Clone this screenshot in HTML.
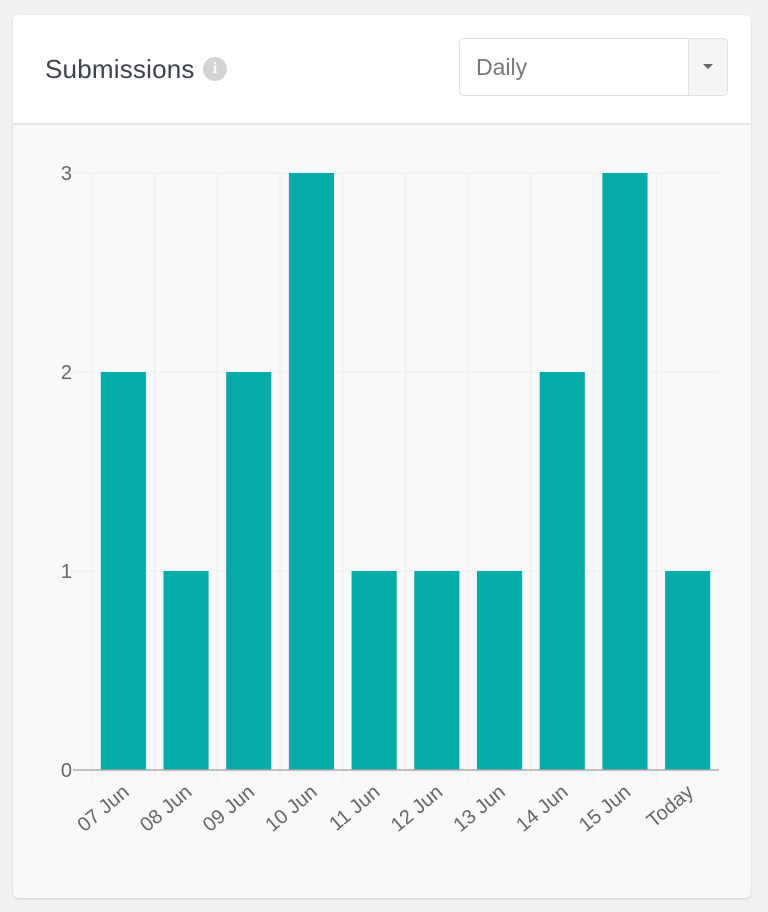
<!DOCTYPE html>
<html><head><meta charset="utf-8"><style>
body{margin:0;width:768px;height:912px;background:#f1f1f1;font-family:"Liberation Sans",sans-serif;position:relative;overflow:hidden}
.card{position:absolute;left:13px;top:15px;width:738px;height:883px;background:#f8f9fb;border-radius:6px;box-shadow:0 1px 2px rgba(0,0,0,.15);overflow:hidden}
.head{position:absolute;left:0;top:0;width:738px;height:108px;background:#fff;border-bottom:2px solid #e4e6ea}
.title{position:absolute;left:32px;top:39px;font-size:26px;color:#3c434a;letter-spacing:0.2px}
.info{position:absolute;left:190px;top:42px;width:24px;height:24px;border-radius:50%;background:#d4d4d4;color:#fff;font-size:16px;font-weight:bold;text-align:center;line-height:24px;font-family:"Liberation Serif",serif}
.sel{position:absolute;left:446px;top:23px;width:267px;height:56px;border:1.5px solid #e0e0e0;border-radius:5px;background:#fff;overflow:hidden}
.sel .txt{position:absolute;left:16px;top:15px;font-size:23px;color:#777}
.sel .btn{position:absolute;right:0;top:0;width:38px;height:56px;background:#f5f5f5;border-left:1.5px solid #e0e0e0}
.sel .caret{position:absolute;left:14px;top:25px;border-left:5px solid transparent;border-right:5px solid transparent;border-top:5px solid #666}
</style></head><body>
<div class="card">
<div class="head">
<div class="title">Submissions</div>
<div class="info">i</div>
<div class="sel"><span class="txt">Daily</span><div class="btn"><div class="caret"></div></div></div>
</div>
</div>
<svg id="chart" width="768" height="912" style="position:absolute;left:0;top:0"></svg>
<script>
const categories=["07 Jun","08 Jun","09 Jun","10 Jun","11 Jun","12 Jun","13 Jun","14 Jun","15 Jun","Today"];
const values=[2,1,2,3,1,1,1,2,3,1];
const yTicks=[0,1,2,3];
const svg=document.getElementById('chart');
const NS='http://www.w3.org/2000/svg';
const x0=92,x1=719,y0=770,y1=173,yMax=3;
const bw=(x1-x0)/categories.length;
const xs=i=>x0+i*bw;
const ys=v=>y0-(v/yMax)*(y0-y1);
function mk(t,a){const e=document.createElementNS(NS,t);for(const k in a)e.setAttribute(k,a[k]);svg.appendChild(e);return e;}
yTicks.forEach(t=>{
  const l=mk('line',{x1:73,x2:x1,y1:ys(t),y2:ys(t),stroke:'#eceef1','stroke-width':1});
  
  
  const tx=mk('text',{x:72,y:ys(t)+7,'text-anchor':'end','font-size':20,fill:'#666','font-family':'Liberation Sans, sans-serif'});
  tx.textContent=t;
  
  
});
categories.forEach((c,i)=>{
  const g=mk('line',{x1:xs(i),x2:xs(i),y1:y1,y2:y0+10,stroke:'#eceef1','stroke-width':1});
  
  
});
categories.forEach((c,i)=>{
  const w=bw*0.72,cx=xs(i)+bw/2;
  const r=mk('rect',{x:cx-w/2,y:ys(values[i]),width:w,height:y0-ys(values[i]),fill:'#05aaa9'});
  
  
  const tx=cx+7,ty=y0+24;
  const t=mk('text',{x:tx,y:ty,'text-anchor':'end','font-size':20,fill:'#666','font-family':'Liberation Sans, sans-serif',transform:`rotate(-40 ${tx} ${ty})`});
  t.textContent=c;
  
  
});
const ax=mk('line',{x1:73,x2:x1,y1:y0,y2:y0,stroke:'#aaa','stroke-width':1.5});


</script>
</body></html>
